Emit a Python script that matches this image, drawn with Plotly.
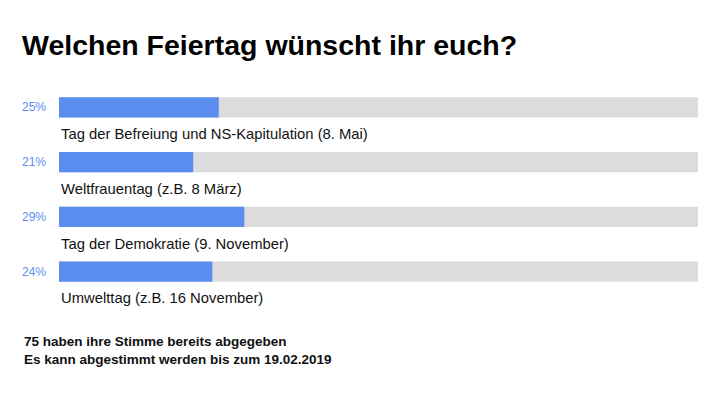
import plotly.graph_objects as go

title = "Welchen Feiertag wünscht ihr euch?"
categories = [
    "Tag der Befreiung und NS-Kapitulation (8. Mai)",
    "Weltfrauentag (z.B. 8 März)",
    "Tag der Demokratie (9. November)",
    "Umwelttag (z.B. 16 November)",
]
percent = [25, 21, 29, 24]
total = [100, 100, 100, 100]
footer = ["75 haben ihre Stimme bereits abgegeben", "Es kann abgestimmt werden bis zum 19.02.2019"]

BLUE = "#5b8def"
GRAY = "#dcdcdc"
FONT = "Liberation Sans, Arial, Helvetica, sans-serif"

# page body has an 8px margin; positions below are in figure pixels
L, T, PW, PH = 51, 71.5, 639, 220

ypos = list(range(len(categories)))

fig = go.Figure()
fig.add_trace(go.Bar(x=total, y=ypos, orientation="h", marker=dict(color=GRAY, line=dict(width=0)),
                     width=0.37, hoverinfo="skip"))
fig.add_trace(go.Bar(x=percent, y=ypos, orientation="h", marker=dict(color=BLUE, line=dict(width=0)),
                     width=0.37, hoverinfo="skip"))

ann = []
for i, (c, p) in enumerate(zip(categories, percent)):
    ann.append(dict(x=0, y=i + 0.49, xref="x", yref="y", text=c, showarrow=False,
                    xanchor="left", yanchor="middle", font=dict(size=14.8, color="#111111", family=FONT)))
    ann.append(dict(x=-11 / PW, y=i, xref="paper", yref="y", text=f"{p}%", showarrow=False,
                    xanchor="right", yanchor="middle", font=dict(size=12, color=BLUE, family=FONT)))
for j, line in enumerate(footer):
    ypx = 334 + 18 * j
    ann.append(dict(x=(14 - L) / PW, y=(T + PH - ypx) / PH, xref="paper", yref="paper",
                    text=f"<b>{line}</b>", showarrow=False, xanchor="left", yanchor="middle",
                    font=dict(size=13.5, color="#111111", family=FONT)))

fig.update_layout(
    width=720, height=395,
    margin=dict(l=L, r=720 - L - PW, t=T, b=395 - T - PH, pad=0, autoexpand=False),
    paper_bgcolor="white", plot_bgcolor="white",
    barmode="overlay", showlegend=False,
    title=dict(text=f"<b>{title}</b>", x=14 / 720, xanchor="left", xref="container",
               y=1 - 37 / 395, yanchor="middle", yref="container",
               font=dict(size=28.5, color="#000000", family=FONT)),
    xaxis=dict(range=[0, 100], visible=False, fixedrange=True),
    yaxis=dict(range=[3.5, -0.5], visible=False, fixedrange=True),
    annotations=ann,
)
fig.write_html("out.html")
